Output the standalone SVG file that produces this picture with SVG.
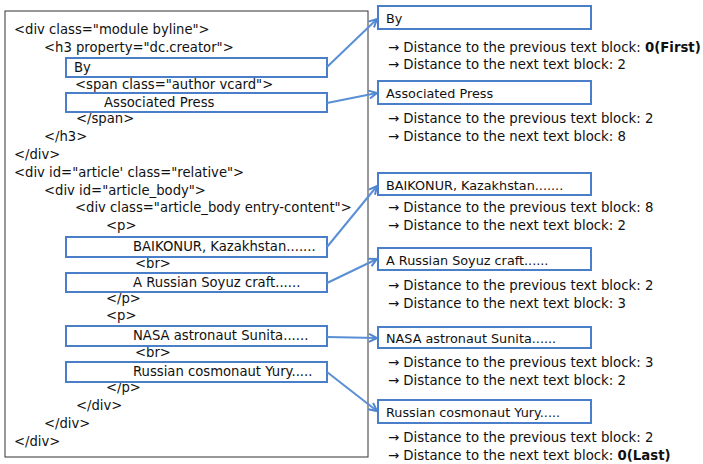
<svg xmlns="http://www.w3.org/2000/svg" width="703" height="464" viewBox="0 0 703 464">
<defs>
<marker id="ah" markerWidth="10" markerHeight="10" refX="9" refY="5" orient="auto" markerUnits="userSpaceOnUse">
<path d="M1,1 L9,5 L1,9" fill="none" stroke="#4F86D0" stroke-width="2"/>
</marker>
</defs>
<style>
text{font-family:"DejaVu Sans","Noto Sans",sans-serif;fill:#111}
.code{font-size:13.2px}
.lbl{font-size:12.8px}
.desc{font-size:13.3px}
.box{fill:none;stroke:#4A7EC9;stroke-width:2}
.con{fill:none;stroke:#5A8FD6;stroke-width:2;marker-end:url(#ah)}
</style>
<rect x="0" y="0" width="703" height="464" fill="#fff"/>
<g id="html-source">
<rect x="5" y="11" width="363" height="446" fill="none" stroke="#333" stroke-width="1"/>
<text class="code" x="14" y="34">&lt;div class="module byline"&gt;</text>
<text class="code" x="44" y="52">&lt;h3 property="dc.creator"&gt;</text>
<text class="code" x="75" y="89">&lt;span class="author vcard"&gt;</text>
<text class="code" x="76" y="123">&lt;/span&gt;</text>
<text class="code" x="44" y="141">&lt;/h3&gt;</text>
<text class="code" x="14" y="159">&lt;/div&gt;</text>
<text class="code" x="14" y="177">&lt;div id="article' class="relative"&gt;</text>
<text class="code" x="44" y="195">&lt;div id="article_body"&gt;</text>
<text class="code" x="75" y="212">&lt;div class="article_body entry-content"&gt;</text>
<text class="code" x="106" y="230">&lt;p&gt;</text>
<text class="code" x="135" y="268">&lt;br&gt;</text>
<text class="code" x="106" y="303">&lt;/p&gt;</text>
<text class="code" x="106" y="320">&lt;p&gt;</text>
<text class="code" x="135" y="357">&lt;br&gt;</text>
<text class="code" x="106" y="392">&lt;/p&gt;</text>
<text class="code" x="76" y="410">&lt;/div&gt;</text>
<text class="code" x="44" y="428">&lt;/div&gt;</text>
<text class="code" x="14" y="446">&lt;/div&gt;</text>
</g>
<g id="src-by"><rect class="box" x="66" y="58" width="261" height="19"/><text class="code" x="74" y="72">By</text></g>
<g id="src-ap"><rect class="box" x="66" y="93" width="261" height="19"/><text class="code" x="104" y="107">Associated Press</text></g>
<g id="src-baikonur"><rect class="box" x="66" y="237" width="261" height="20"/><text class="code" x="133" y="251">BAIKONUR, Kazakhstan.......</text></g>
<g id="src-soyuz"><rect class="box" x="66" y="273" width="261" height="19"/><text class="code" x="133" y="287">A Russian Soyuz craft......</text></g>
<g id="src-nasa"><rect class="box" x="66" y="326" width="261" height="20"/><text class="code" x="133" y="340">NASA astronaut Sunita......</text></g>
<g id="src-yury"><rect class="box" x="66" y="362" width="261" height="20"/><text class="code" x="133" y="376">Russian cosmonaut Yury.....</text></g>

<g id="out-by"><rect class="box" x="378" y="6" width="213" height="23"/><text class="lbl" x="386" y="23">By</text>
<text class="desc" x="388" y="52">→ Distance to the previous text block: <tspan font-weight="bold">0(First)</tspan></text>
<text class="desc" x="388" y="69">→ Distance to the next text block: 2</text></g>
<g id="out-ap"><rect class="box" x="378" y="81" width="213" height="23"/><text class="lbl" x="386" y="98">Associated Press</text>
<text class="desc" x="388" y="123">→ Distance to the previous text block: 2</text>
<text class="desc" x="388" y="141">→ Distance to the next text block: 8</text></g>
<g id="out-baikonur"><rect class="box" x="378" y="173" width="213" height="22"/><text class="lbl" x="386" y="190">BAIKONUR, Kazakhstan.......</text>
<text class="desc" x="388" y="212">→ Distance to the previous text block: 8</text>
<text class="desc" x="388" y="230">→ Distance to the next text block: 2</text></g>
<g id="out-soyuz"><rect class="box" x="378" y="248" width="213" height="22"/><text class="lbl" x="386" y="265">A Russian Soyuz craft......</text>
<text class="desc" x="388" y="290">→ Distance to the previous text block: 2</text>
<text class="desc" x="388" y="308">→ Distance to the next text block: 3</text></g>
<g id="out-nasa"><rect class="box" x="378" y="327" width="213" height="21"/><text class="lbl" x="386" y="343">NASA astronaut Sunita......</text>
<text class="desc" x="388" y="367">→ Distance to the previous text block: 3</text>
<text class="desc" x="388" y="385">→ Distance to the next text block: 2</text></g>
<g id="out-yury"><rect class="box" x="378" y="400" width="213" height="23"/><text class="lbl" x="386" y="417">Russian cosmonaut Yury.....</text>
<text class="desc" x="388" y="442">→ Distance to the previous text block: 2</text>
<text class="desc" x="388" y="460">→ Distance to the next text block: <tspan font-weight="bold">0(Last)</tspan></text></g>

<g id="connectors">
<path class="con" d="M327,67 L377,19"/>
<path class="con" d="M327,103 L377,93"/>
<path class="con" d="M327,247 L377,186"/>
<path class="con" d="M327,283 L377,259"/>
<path class="con" d="M327,337 L377,338"/>
<path class="con" d="M327,372 L377,411"/>
</g>
</svg>
